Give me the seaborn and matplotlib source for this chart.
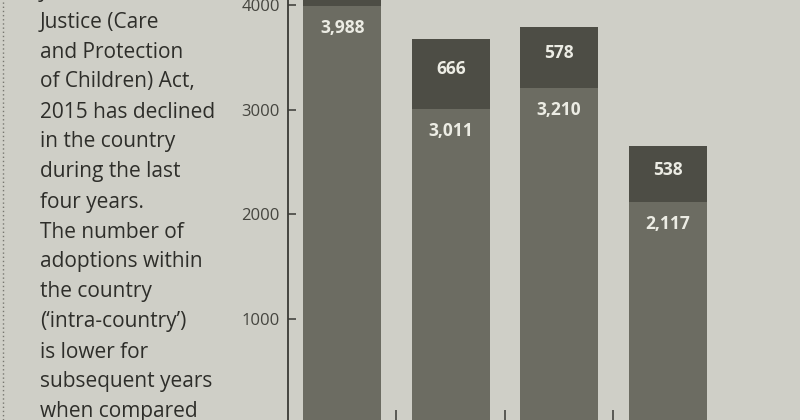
import pandas as pd
import matplotlib.pyplot as plt
import seaborn as sns
from matplotlib.lines import Line2D

# adoptions per year (first year's inter-country part is cut off in the photo)
years = ["2014-15", "2015-16", "2016-17", "2017-18"]
intra_country = [3988, 3011, 3210, 2117]
inter_country = [374, 666, 578, 538]
y_ticks = [1000, 2000, 3000, 4000]

side_text = [
    "Juvenile",
    "Justice (Care",
    "and Protection",
    "of Children) Act,",
    "2015 has declined",
    "in the country",
    "during the last",
    "four years.",
    "The number of",
    "adoptions within",
    "the country",
    "(\u2018intra-country\u2019)",
    "is lower for",
    "subsequent years",
    "when compared",
]

paper = "#cfcfc7"
light_bar = "#6c6c62"
dark_bar = "#4d4d45"
ink = "#2e2e2a"
label_col = "#ecece4"

sns.set_theme(style="white", rc={"axes.facecolor": paper, "figure.facecolor": paper})
plt.rcParams["font.family"] = ["Open Sans", "DejaVu Sans"]

df = pd.DataFrame({"year": years, "intra": intra_country, "inter": inter_country})
df["total"] = df["intra"] + df["inter"]

fig = plt.figure(figsize=(8, 4.2), dpi=100)
ax = fig.add_axes([288 / 800, -4 / 420, 512 / 800, 440 / 420])

sns.barplot(data=df, x="year", y="total", color=dark_bar, width=0.72,
            saturation=1, ax=ax, linewidth=0)
sns.barplot(data=df, x="year", y="intra", color=light_bar, width=0.72,
            saturation=1, ax=ax, linewidth=0)

ax.set_xlim(-0.5, 4.22)
ax.set_ylim(0, 4200)
ax.set_xlabel("")
ax.set_ylabel("")

for i, row in df.iterrows():
    ax.text(i, row["intra"] - 210, f"{row['intra']:,}", ha="center", va="center",
            color=label_col, fontsize=12.5, fontweight="bold")
    ax.text(i, row["intra"] + row["inter"] / 2 + 40, f"{row['inter']:,}", ha="center",
            va="center", color=label_col, fontsize=12.5, fontweight="bold")

for s in ["top", "right"]:
    ax.spines[s].set_visible(False)
for s in ["left", "bottom"]:
    ax.spines[s].set_color("#3a3a35")
    ax.spines[s].set_linewidth(1.3)

ax.set_yticks(y_ticks)
ax.set_yticklabels([str(v) for v in y_ticks])
ax.tick_params(axis="y", direction="in", length=6, width=1.1, color="#3a3a35",
               labelsize=12, labelcolor="#45453f", pad=6, left=True)
ax.set_xticks([])
ax.set_xticks([0.5, 1.5, 2.5], minor=True)
ax.tick_params(axis="x", which="minor", direction="in", length=10, width=1.1,
               color="#3a3a35", bottom=True)

for k, line in enumerate(side_text):
    fig.text(40 / 800, 1 - (-8 + 30 * k) / 420, line, ha="left", va="center",
             fontsize=15, color=ink)

fig.add_artist(Line2D([3 / 800, 3 / 800], [0, 1], transform=fig.transFigure,
                      linestyle=(0, (1, 2)), color="#777770", linewidth=1))

plt.savefig("out.png", dpi=100)
plt.close()
